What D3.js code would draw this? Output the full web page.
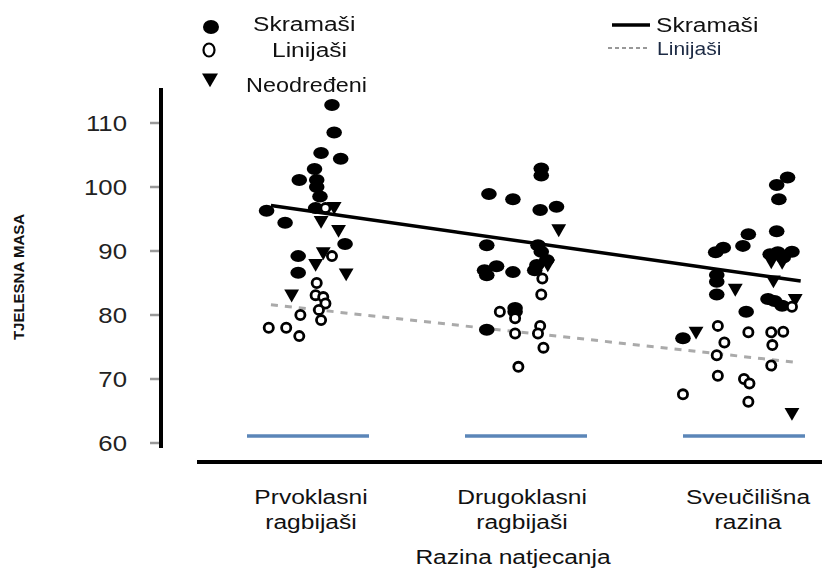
<!DOCTYPE html>
<html>
<head>
<meta charset="utf-8">
<script src="https://cdn.jsdelivr.net/npm/d3@7"></script>
<style>
  body { margin: 0; background: #fff; }
  text { font-family: Arial, "Liberation Sans", sans-serif; }
</style>
</head>
<body>
<svg id="chart" width="822" height="570"></svg>
<script>
// kategorije (x os)
const kategorije = ["Prvoklasni ragbijaši", "Drugoklasni ragbijaši", "Sveučilišna razina"]
const yTicks = [60, 70, 80, 90, 100, 110]

// točke: [kategorija, pomak unutar kategorije, tjelesna masa]
const skramasi = [
  [0, 0.11, 112.8], [0, 0.12, 108.5], [0, 0.06, 105.3], [0, 0.15, 104.4], [0, 0.03, 102.8],
  [0, -0.04, 101.1], [0, 0.04, 101.1], [0, 0.04, 100.0], [0, 0.055, 98.5], [0, -0.19, 96.3],
  [0, -0.105, 94.4], [0, 0.035, 96.7], [0, 0.17, 91.1], [0, -0.045, 89.2], [0, -0.045, 86.6],
  [1, 0.07, 102.9], [1, 0.07, 101.8], [1, -0.17, 98.9], [1, -0.06, 98.1], [1, 0.065, 96.4],
  [1, 0.14, 96.9], [1, -0.18, 90.9], [1, 0.055, 90.9], [1, 0.07, 89.9], [1, 0.095, 88.6],
  [1, 0.05, 87.8], [1, 0.04, 87.0], [1, -0.135, 87.6], [1, -0.19, 87.0], [1, -0.18, 86.2],
  [1, -0.06, 86.7], [1, -0.05, 81.1], [1, -0.05, 80.5], [1, -0.18, 77.7],
  [2, 0.20, 101.5], [2, 0.15, 100.3], [2, 0.16, 98.1], [2, 0.02, 92.6], [2, 0.15, 93.1],
  [2, -0.005, 90.8], [2, -0.095, 90.5], [2, -0.13, 89.8], [2, 0.12, 89.5], [2, 0.155, 89.8],
  [2, 0.22, 89.9], [2, 0.18, 89.0], [2, -0.125, 86.25], [2, -0.125, 85.2], [2, -0.125, 83.2],
  [2, 0.11, 82.5], [2, 0.14, 82.2], [2, 0.175, 81.45], [2, 0.01, 80.5], [2, -0.28, 76.35]
]
const linijasi = [
  [0, 0.08, 96.7], [0, 0.11, 89.2], [0, 0.04, 85.0], [0, 0.035, 83.1], [0, 0.07, 82.8],
  [0, 0.08, 81.8], [0, 0.05, 80.8], [0, -0.035, 80.0], [0, 0.06, 79.2], [0, -0.18, 78.0],
  [0, -0.10, 78.0], [0, -0.04, 76.7],
  [1, 0.075, 85.7], [1, 0.07, 83.2], [1, -0.12, 80.5], [1, -0.05, 79.5], [1, 0.065, 78.3],
  [1, 0.055, 77.1], [1, -0.05, 77.1], [1, 0.08, 74.9], [1, -0.035, 71.9],
  [2, 0.22, 81.3], [2, -0.12, 78.3], [2, 0.02, 77.3], [2, 0.125, 77.3], [2, 0.18, 77.4],
  [2, -0.09, 75.7], [2, 0.13, 75.3], [2, -0.125, 73.7], [2, 0.125, 72.1], [2, -0.12, 70.5],
  [2, 0, 70.0], [2, 0.025, 69.3], [2, -0.28, 67.6], [2, 0.02, 66.45]
]
const neodredeni = [
  [0, 0.12, 97.0], [0, 0.06, 94.8], [0, 0.14, 93.4], [0, 0.07, 89.9], [0, 0.035, 88.1],
  [0, 0.175, 86.6], [0, -0.075, 83.3],
  [1, 0.15, 93.5], [1, 0.10, 88.0],
  [2, 0.125, 88.5], [2, 0.175, 88.4], [2, 0.135, 85.5], [2, -0.04, 84.2], [2, 0.235, 82.6],
  [2, -0.22, 77.5], [2, 0.22, 64.8]
]
// regresijski pravci: [početak, kraj] kao [x, masa]
const pravacSkramasi = [[-0.17, 97.1], [2.26, 85.3]]
const pravacLinijasi = [[-0.17, 81.6], [2.24, 72.6]]

const svg = d3.select('#chart')
const sx = 1.17 // tekst u originalu je malo razvučen

const x = d3.scaleLinear().domain([0, 2]).range([308, 744])
const y = d3.scaleLinear().domain([60, 110]).range([443, 123])

// blago zamućenje kao na slici
svg.append('defs').append('filter').attr('id', 'mut')
  .append('feGaussianBlur').attr('stdDeviation', 0.55)

// pomoćna funkcija za razvučeni tekst
function tekst(g, tx, ty, str, size, anchor, opts = {}) {
  return g.append('text')
    .attr('transform', `translate(${tx},${ty}) scale(${sx},1)`)
    .attr('text-anchor', anchor)
    .attr('font-size', size)
    .attr('fill', opts.fill || '#111')
    .attr('font-weight', opts.weight || 'normal')
    .text(str)
}

/* plave crte ispod svake kategorije */
svg.append('g').selectAll('line')
  .data(kategorije)
  .join('line')
  .attr('x1', (d, i) => x(i) - 61)
  .attr('x2', (d, i) => x(i) + 61)
  .attr('y1', 436).attr('y2', 436)
  .attr('stroke', '#5b86b8')
  .attr('stroke-width', 3.5)

/* Y os */
const yAxis = svg.append('g')
yAxis.append('line')
  .attr('x1', 161).attr('x2', 161)
  .attr('y1', 88).attr('y2', 448)
  .attr('stroke', '#000').attr('stroke-width', 4)
yAxis.selectAll('.tick')
  .data(yTicks)
  .join('line')
  .attr('x1', 150).attr('x2', 159)
  .attr('y1', d => y(d)).attr('y2', d => y(d))
  .attr('stroke', '#999').attr('stroke-width', 2.5)
yTicks.forEach(t => tekst(yAxis, 127, y(t) + 8, t, 22, 'end', { fill: '#222' }))

svg.append('text')
  .attr('transform', 'translate(24,277) rotate(-90)')
  .attr('text-anchor', 'middle')
  .attr('font-family', '"Liberation Sans Narrow", "Arial Narrow", sans-serif')
  .attr('font-weight', 'bold')
  .attr('font-size', 15)
  .attr('fill', '#111')
  .text('TJELESNA MASA')

/* X os */
svg.append('line')
  .attr('x1', 197).attr('x2', 822)
  .attr('y1', 462).attr('y2', 462)
  .attr('stroke', '#000').attr('stroke-width', 4)

const xLab = svg.append('g')
const labX = [311, 522, 748]
kategorije.forEach((k, i) => {
  const [a, b] = k.split(' ')
  tekst(xLab, labX[i], 504, a, 21, 'middle')
  tekst(xLab, labX[i], 529, b, 21, 'middle')
})
tekst(xLab, 513, 564, 'Razina natjecanja', 21, 'middle')

/* regresijski pravci */
const line = d3.line().x(d => x(d[0])).y(d => y(d[1]))
svg.append('path')
  .attr('d', line(pravacLinijasi))
  .attr('fill', 'none')
  .attr('stroke', '#aaa').attr('stroke-width', 3)
  .attr('stroke-dasharray', '7,7')

/* točke */
const tocke = svg.append('g').attr('filter', 'url(#mut)')
tocke.selectAll('ellipse')
  .data(skramasi)
  .join('ellipse')
  .attr('cx', d => x(d[0] + d[1]))
  .attr('cy', d => y(d[2]))
  .attr('rx', 7.8).attr('ry', 6)
  .attr('fill', '#000')

const tri = d3.symbol().type(d3.symbolTriangle).size(95)
tocke.selectAll('path.tri')
  .data(neodredeni)
  .join('path')
  .attr('class', 'tri')
  .attr('d', tri)
  .attr('transform', d => `translate(${x(d[0] + d[1])},${y(d[2])}) rotate(180)`)
  .attr('fill', '#000')

tocke.selectAll('circle')
  .data(linijasi)
  .join('circle')
  .attr('cx', d => x(d[0] + d[1]))
  .attr('cy', d => y(d[2]))
  .attr('r', 4.6)
  .attr('fill', '#fff')
  .attr('stroke', '#000').attr('stroke-width', 2.8)

svg.append('path')
  .attr('d', line(pravacSkramasi))
  .attr('fill', 'none')
  .attr('stroke', '#000').attr('stroke-width', 3.5)

/* legenda lijevo */
const leg = svg.append('g')
leg.append('ellipse').attr('cx', 211).attr('cy', 27).attr('rx', 8).attr('ry', 7).attr('fill', '#000')
leg.append('ellipse').attr('cx', 209).attr('cy', 50).attr('rx', 5.5).attr('ry', 6.5)
  .attr('fill', '#fff').attr('stroke', '#000').attr('stroke-width', 2.2)
leg.append('path').attr('d', d3.symbol().type(d3.symbolTriangle).size(110))
  .attr('transform', 'translate(210,78) rotate(180)').attr('fill', '#000')
tekst(leg, 253, 31, 'Skramaši', 21, 'start')
tekst(leg, 272, 57, 'Linijaši', 21, 'start')
tekst(leg, 246, 92, 'Neodređeni', 20, 'start')

/* legenda desno */
const leg2 = svg.append('g')
leg2.append('line').attr('x1', 612).attr('x2', 650).attr('y1', 25).attr('y2', 25)
  .attr('stroke', '#000').attr('stroke-width', 3.5)
leg2.append('line').attr('x1', 608).attr('x2', 650).attr('y1', 48).attr('y2', 48)
  .attr('stroke', '#333').attr('stroke-width', 1.2).attr('stroke-dasharray', '4,3')
tekst(leg2, 656, 32, 'Skramaši', 21, 'start')
tekst(leg2, 657, 55, 'Linijaši', 18, 'start', { fill: '#1c2a44' })
</script>
</body>
</html>
